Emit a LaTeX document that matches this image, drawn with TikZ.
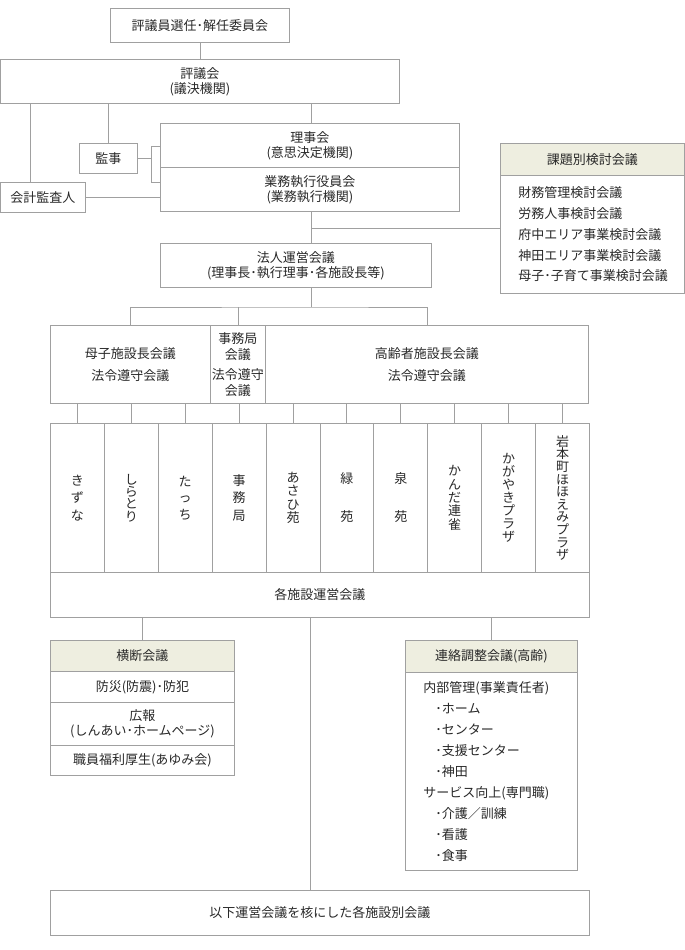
\documentclass[tikz,border=0pt]{standalone}
\usepackage{fontspec}
\newfontfamily\jpfont{Noto Sans CJK JP}
\definecolor{lineg}{RGB}{160,160,160}
\definecolor{headbg}{RGB}{238,238,224}
\definecolor{txt}{RGB}{40,40,40}

\begin{document}
\begin{tikzpicture}[x=1pt, y=-1pt,
  box/.style={draw=lineg, line width=0.9pt, anchor=north west, inner sep=0pt, align=center, text=txt, font=\jpfont\fontsize{13}{15}\selectfont},
  head/.style={box, fill=headbg},
  conn/.style={draw=lineg, line width=0.9pt},
  vcol/.style={box, minimum width=53.9pt, minimum height=149pt, font=\jpfont\fontsize{13}{#1}\selectfont}]
  \useasboundingbox (0,0) rectangle (685,950);

  % Top: board of councillors
  \node[box, minimum width=179pt, minimum height=34pt] (senin) at (110,8) {評議員選任･解任委員会};
  \node[box, minimum width=399pt, minimum height=44pt] (hyogikai) at (0,59) {評議会\\(議決機関)};
  \node[box, minimum width=58pt, minimum height=30pt] (kanji) at (79,143) {監事};
  \node[box, minimum width=85pt, minimum height=30pt] (kansanin) at (0,182) {会計監査人};
  \node[box, minimum width=299pt, minimum height=44pt] (rijikai) at (160,123) {理事会\\(意思決定機関)};
  \node[box, minimum width=299pt, minimum height=44pt] (gyomu) at (160,167) {業務執行役員会\\(業務執行機関)};

  % Topic committees
  \node[head, minimum width=184pt, minimum height=32pt] (kadai) at (500,143) {課題別検討会議};
  \node[box, minimum width=184pt, minimum height=118pt, align=left, text width=148pt, inner xsep=18pt,
    font=\jpfont\fontsize{13}{20.75}\selectfont] (kadaibody) at (500,175)
    {財務管理検討会議\\労務人事検討会議\\府中エリア事業検討会議\\神田エリア事業検討会議\\母子･子育て事業検討会議};

  % Management meeting
  \node[box, minimum width=271pt, minimum height=44pt] (houjin) at (160,243) {法人運営会議\\(理事長･執行理事･各施設長等)};

  % Director meetings
  \node[box, minimum width=160pt, minimum height=78pt, font=\jpfont\fontsize{13}{22}\selectfont] (boshi) at (50,325) {母子施設長会議\\法令遵守会議};
  \node[box, minimum width=55pt, minimum height=78pt, font=\jpfont\fontsize{13}{16}\selectfont] (jimukaigi) at (210,325) {事務局\\会議\\[4pt]法令遵守\\会議};
  \node[box, minimum width=323pt, minimum height=78pt, font=\jpfont\fontsize{13}{22}\selectfont] (koureisha) at (265,325) {高齢者施設長会議\\法令遵守会議};

  % Facilities
  \node[vcol=17.3] (kizuna) at (50,423) {き\\ず\\な};
  \node[vcol=12.4] (shiratori) at (103.9,423) {し\\ら\\と\\り};
  \node[vcol=16.7] (tacchi) at (157.8,423) {た\\っ\\ち};
  \node[vcol=17.5] (jimukyoku) at (211.7,423) {事\\務\\局};
  \node[vcol=13.3] (asahien) at (265.6,423) {あ\\さ\\ひ\\苑};
  \node[vcol=38] (midorien) at (319.5,423) {緑\\苑};
  \node[vcol=38] (izumien) at (373.4,423) {泉\\苑};
  \node[vcol=13.3] (kanda) at (427.3,423) {か\\ん\\だ\\連\\雀};
  \node[vcol=13] (kagayaki) at (481.2,423) {か\\が\\や\\き\\プ\\ラ\\ザ};
  \node[vcol=12.6] (iwamoto) at (535.1,423) {岩\\本\\町\\ほ\\ほ\\え\\み\\プ\\ラ\\ザ};
  \node[box, minimum width=539pt, minimum height=45pt] (unei) at (50,572) {各施設運営会議};

  % Cross-section meetings
  \node[head, minimum width=184pt, minimum height=31pt] (oudan) at (50,640) {横断会議};
  \node[box, minimum width=184pt, minimum height=31pt] (bousai) at (50,671) {防災(防震)･防犯};
  \node[box, minimum width=184pt, minimum height=43pt] (kouhou) at (50,702) {広報\\(しんあい･ホームページ)};
  \node[box, minimum width=184pt, minimum height=30pt] (fukuri) at (50,745) {職員福利厚生(あゆみ会)};

  % Liaison meeting
  \node[head, minimum width=172pt, minimum height=32pt] (renraku) at (405,640) {連絡調整会議(高齢)};
  \node[box, minimum width=172pt, minimum height=198pt, align=left, text width=136pt, inner xsep=18pt,
    font=\jpfont\fontsize{13}{21}\selectfont] (renrakubody) at (405,672)
    {内部管理(事業責任者)\\\hspace*{12pt}･ホーム\\\hspace*{12pt}･センター\\\hspace*{12pt}･支援センター\\\hspace*{12pt}･神田\\
     サービス向上(専門職)\\\hspace*{12pt}･介護／訓練\\\hspace*{12pt}･看護\\\hspace*{12pt}･食事};

  % Bottom
  \node[box, minimum width=539pt, minimum height=45pt] (betsu) at (50,890) {以下運営会議を核にした各施設別会議};

  % Connectors, top part
  \draw[conn] (senin) -- (hyogikai);
  \draw[conn] (hyogikai.south -| 30,0) -- (kansanin.north -| 30,0);
  \draw[conn] (hyogikai.south -| kanji) -- (kanji.north);
  \draw[conn] (hyogikai.south -| 311,0) -- (rijikai.north -| 311,0);
  \draw[conn] (kanji.east) -- (kanji.east -| 151,0);
  \draw[conn] (rijikai.west |- 0,146) -| (151,182) -- (gyomu.west |- 0,182);
  \draw[conn] (kansanin.east) -- (kansanin.east -| gyomu.west);
  \draw[conn] (gyomu.south -| 311,0) -- (houjin.north -| 311,0);
  \coordinate (kadaibranch) at (311,228);
  \draw[conn] (kadaibranch) -- (kadaibranch -| kadaibody.west);

  % Bus to director meetings
  \coordinate (bus) at (311,307);
  \draw[conn] (houjin.south -| bus) -- (bus);
  \draw[conn] (boshi.north) |- (bus) -| (koureisha.north);
  \draw[conn] (jimukaigi.north) -- (jimukaigi.north |- bus);

  % Drops to facilities
  \draw[conn] (kizuna.north) -- (kizuna.north |- boshi.south);
  \draw[conn] (shiratori.north) -- (shiratori.north |- boshi.south);
  \draw[conn] (tacchi.north) -- (tacchi.north |- boshi.south);
  \draw[conn] (jimukyoku.north) -- (jimukyoku.north |- jimukaigi.south);
  \draw[conn] (asahien.north) -- (asahien.north |- koureisha.south);
  \draw[conn] (midorien.north) -- (midorien.north |- koureisha.south);
  \draw[conn] (izumien.north) -- (izumien.north |- koureisha.south);
  \draw[conn] (kanda.north) -- (kanda.north |- koureisha.south);
  \draw[conn] (kagayaki.north) -- (kagayaki.north |- koureisha.south);
  \draw[conn] (iwamoto.north) -- (iwamoto.north |- koureisha.south);

  % Lower branches
  \draw[conn] (unei.south -| oudan) -- (oudan.north);
  \draw[conn] (unei.south -| renraku) -- (renraku.north);
  \draw[conn] (unei.south -| 310,0) -- (betsu.north -| 310,0);
\end{tikzpicture}
\end{document}
